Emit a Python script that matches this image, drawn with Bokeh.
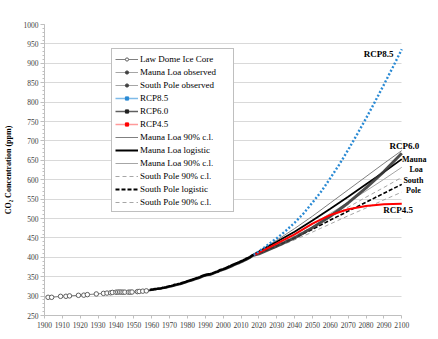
from bokeh.plotting import figure
from bokeh.models import Range1d, FixedTicker, Legend, LegendItem, Label, ColumnDataSource
from bokeh.embed import file_html
from bokeh.resources import INLINE

# ---------------- data ----------------
law_years = [1902, 1904, 1909, 1912, 1914, 1919, 1922, 1924, 1929, 1933, 1935, 1937, 1938,
             1940, 1941, 1942, 1943, 1944, 1945, 1947, 1948, 1949, 1952, 1953, 1955, 1957]
law_ppm = [296.9, 296.9, 299.4, 299.5, 300.6, 302.0, 302.4, 303.8, 305.5, 307.0, 307.8, 308.5, 309.5,
           310.0, 310.3, 310.5, 310.3, 310.1, 310.2, 310.1, 310.2, 310.5, 311.5, 312.0, 312.7, 313.5]

mlo_years = list(range(1959, 2018))
mlo_ppm = [315.97, 316.91, 317.64, 318.45, 318.99, 319.62, 320.04, 321.38, 322.16, 323.04,
           324.62, 325.68, 326.32, 327.45, 329.68, 330.18, 331.11, 332.04, 333.83, 335.40,
           336.84, 338.75, 340.11, 341.45, 343.05, 344.65, 346.12, 347.42, 349.19, 351.57,
           353.12, 354.39, 355.61, 356.45, 357.10, 358.83, 360.82, 362.61, 363.73, 366.70,
           368.38, 369.55, 371.14, 373.28, 375.80, 377.52, 379.80, 381.90, 383.79, 385.60,
           387.43, 389.90, 391.65, 393.85, 396.52, 398.65, 400.83, 404.24, 406.55]

spo_years = list(range(1957, 2018))
spo_ppm = [313.5, 314.2, 314.9, 315.8, 316.5, 317.3, 318.0, 318.5, 319.1, 320.0,
           320.9, 321.6, 322.8, 324.1, 325.0, 326.0, 327.4, 328.6, 329.6, 330.6,
           332.0, 333.5, 335.0, 336.8, 338.4, 339.6, 341.0, 342.6, 344.0, 345.4,
           346.9, 349.0, 350.8, 352.2, 353.6, 354.4, 355.2, 356.8, 358.7, 360.6,
           361.9, 364.2, 366.1, 367.6, 369.2, 371.0, 373.0, 375.0, 377.0, 379.2,
           381.1, 383.0, 384.8, 387.0, 389.1, 391.2, 393.6, 395.8, 398.3, 401.5, 403.8]

rcp85_years = [2017, 2020, 2025, 2030, 2035, 2040, 2045, 2050, 2055, 2060,
               2065, 2070, 2075, 2080, 2085, 2090, 2095, 2100]
rcp85_ppm = [406, 415, 432, 449, 468, 489, 513, 541, 570, 604,
             639, 677, 717, 758, 801, 845, 890, 936]

rcp_years = [2017, 2020, 2030, 2040, 2050, 2060, 2070, 2080, 2090, 2100]
rcp60_ppm = [405, 409, 429, 450, 476, 506, 540, 579, 621, 668]
rcp45_ppm = [405, 412, 435, 459, 487, 509, 524, 532, 537, 538]

proj_years = [2017, 2030, 2040, 2050, 2060, 2070, 2080, 2090, 2100]
ml_upper = [407, 444, 474, 506, 540, 574, 608, 642, 675]
ml_logistic = [407, 440, 466, 495, 525, 556, 588, 620, 653]
ml_lower = [407, 436, 460, 485, 513, 542, 571, 601, 632]
sp_upper = [405, 432, 455, 478, 503, 529, 555, 580, 606]
sp_logistic = [405, 429, 450, 472, 496, 519, 542, 565, 588]
sp_lower = [405, 426, 445, 465, 486, 507, 527, 548, 568]

y_ticks = list(range(250, 1001, 50))
x_ticks = list(range(1900, 2101, 10))

SERIF = "Liberation Serif"

# ---------------- figure ----------------
# the frame runs past 2100 so the end-of-line labels are not clipped;
# axis and grid are bounded to 1900-2100
p = figure(width=438, height=339, output_backend="svg", toolbar_location=None,
           x_range=Range1d(1900, 2120), y_range=Range1d(250, 1000),
           min_border_left=41, min_border_right=1, min_border_top=24, min_border_bottom=24)
p.outline_line_color = None
p.background_fill_color = "white"
p.xgrid.visible = False
p.ygrid.grid_line_color = "#d9d9d9"
p.ygrid.grid_line_width = 1
p.ygrid.cross_bounds = (1900, 2100)

p.yaxis.ticker = FixedTicker(ticks=y_ticks, minor_ticks=list(range(250, 1001, 10)))
p.xaxis.ticker = FixedTicker(ticks=x_ticks)
p.xaxis.bounds = (1900, 2100)
for ax in (p.xaxis, p.yaxis):
    ax.axis_line_color = "#bfbfbf"
    ax.major_tick_line_color = "#bfbfbf"
    ax.minor_tick_line_color = "#bfbfbf"
    ax.major_tick_in = 0
    ax.minor_tick_in = 0
    ax.major_label_text_font = SERIF
    ax.major_label_text_font_size = "7.5px"
    ax.major_label_text_color = "#404040"
p.yaxis.major_tick_out = 4
p.yaxis.minor_tick_out = 2
p.yaxis.major_label_standoff = 2
p.xaxis.major_tick_out = 3
p.xaxis.minor_tick_out = 0
p.xaxis.major_label_standoff = 3
p.yaxis.axis_label = "CO₂ Concentration (ppm)"
p.yaxis.axis_label_text_font = SERIF
p.yaxis.axis_label_text_font_style = "bold"
p.yaxis.axis_label_text_font_size = "8px"
p.yaxis.axis_label_text_color = "#000000"
p.yaxis.axis_label_standoff = 8

# projections (logistic & confidence limits)
p.line(proj_years, ml_upper, line_color="#808080", line_width=1)
p.line(proj_years, ml_lower, line_color="#a6a6a6", line_width=1)
p.line(proj_years, sp_upper, line_color="#a6a6a6", line_width=1, line_dash="4 3")
p.line(proj_years, sp_lower, line_color="#a6a6a6", line_width=1, line_dash="4 3")
p.line(proj_years, sp_logistic, line_color="#000000", line_width=1.6, line_dash="4 2")
p.line(proj_years, ml_logistic, line_color="#000000", line_width=1.8)

# RCP scenarios
p.line(rcp_years, rcp60_ppm, line_color="#3a3a3a", line_width=3, line_alpha=0.9)
p.line(rcp_years, rcp45_ppm, line_color="#ff0000", line_width=2)
p.line(rcp85_years, rcp85_ppm, line_color="#2a8ad4", line_width=2.4, line_dash="2 2")

# observations
p.line(spo_years, spo_ppm, line_color="#303030", line_width=2)
p.line(mlo_years, mlo_ppm, line_color="#000000", line_width=2.4)
p.line(law_years, law_ppm, line_color="#808080", line_width=1)
p.scatter(law_years, law_ppm, marker="circle", size=4.5, line_color="#606060",
          fill_color="white", line_width=1)

# ---------------- legend (style-only renderers, nothing drawn) ----------------
NAN = float("nan")
def blank():
    return ColumnDataSource(data=dict(x=[NAN], y=[NAN]))
def lg_line(**kw):
    return p.line("x", "y", source=blank(), **kw)
def lg_pt(**kw):
    return p.scatter("x", "y", source=blank(), **kw)

items = [
    ("Law Dome Ice Core", [lg_line(line_color="#808080", line_width=1),
                           lg_pt(marker="circle", line_color="#606060", fill_color="white")]),
    ("Mauna Loa observed", [lg_line(line_color="#a6a6a6", line_width=1),
                            lg_pt(marker="circle", line_color="#404040", fill_color="#404040")]),
    ("South Pole observed", [lg_line(line_color="#a6a6a6", line_width=1),
                             lg_pt(marker="circle", line_color="#404040", fill_color="#404040")]),
    ("RCP8.5", [lg_line(line_color="#7fbbe8", line_width=1.5),
                lg_pt(marker="square", line_color="#2a8ad4", fill_color="#2a8ad4")]),
    ("RCP6.0", [lg_line(line_color="#606060", line_width=1.5),
                lg_pt(marker="square", line_color="#202020", fill_color="#202020")]),
    ("RCP4.5", [lg_line(line_color="#ff9a9a", line_width=1.5),
                lg_pt(marker="square", line_color="#ff0000", fill_color="#ff0000")]),
    ("Mauna Loa 90% c.l.", [lg_line(line_color="#808080", line_width=1)]),
    ("Mauna Loa logistic", [lg_line(line_color="#000000", line_width=2)]),
    ("Mauna Loa 90% c.l.", [lg_line(line_color="#a6a6a6", line_width=1)]),
    ("South Pole 90% c.l.", [lg_line(line_color="#a6a6a6", line_width=1, line_dash="4 3")]),
    ("South Pole logistic", [lg_line(line_color="#000000", line_width=2, line_dash="4 2")]),
    ("South Pole 90% c.l.", [lg_line(line_color="#a6a6a6", line_width=1, line_dash="4 3")]),
]
legend = Legend(items=[LegendItem(label=l, renderers=r) for l, r in items],
                location=(67, 103), orientation="vertical",
                label_text_font=SERIF, label_text_font_size="9px", label_text_color="#000000",
                label_height=13, glyph_height=8, glyph_width=23, label_standoff=2,
                label_width=90, spacing=0, padding=3, margin=0,
                border_line_color="#808080", border_line_width=1.5,
                background_fill_color="white", background_fill_alpha=1)
p.add_layout(legend, "center")

# ---------------- annotations ----------------
def lab(x, y, t, size="9px"):
    p.add_layout(Label(x=x, y=y, text=t, text_align="center", text_baseline="middle",
                       text_font=SERIF, text_font_style="bold", text_font_size=size,
                       text_color="#000000"))

lab(2087, 925, "RCP8.5")
lab(2101.5, 688, "RCP6.0")
lab(2107, 652, "Mauna", "8px")
lab(2108, 626, "Loa", "8px")
lab(2106.5, 598, "South", "8px")
lab(2106.5, 572, "Pole", "8px")
lab(2098, 523, "RCP4.5")

open("out.html", "w").write(file_html(p, INLINE))
